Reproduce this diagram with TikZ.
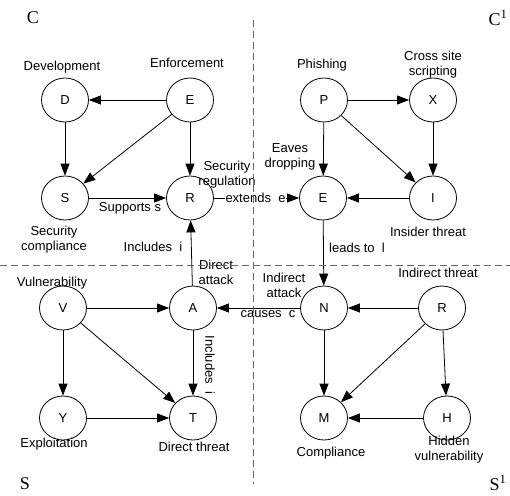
\documentclass[tikz,border=0pt]{standalone}
\usepackage{fontspec}
\setmainfont{Liberation Sans}
\newfontfamily\serifcorner{Liberation Serif}
\usetikzlibrary{arrows.meta,shapes.geometric}

\tikzset{
  state/.style={ellipse,draw,line width=0.8pt,minimum width=47pt,minimum height=44pt,inner sep=0pt,
    font=\fontsize{13}{15}\selectfont},
  lbl/.style={inner sep=0pt,align=center,font=\fontsize{13}{15}\selectfont},
  corner/.style={inner sep=0pt,font=\serifcorner\fontsize{18}{20}\selectfont},
  arr/.style={line width=0.8pt,-{Triangle[length=12pt,width=9pt]}},
  divider/.style={draw=black!60,line width=0.8pt,dash pattern=on 7pt off 4pt}
}

\begin{document}
\begin{tikzpicture}[x=1pt,y=-1pt]
\useasboundingbox (0,0) rectangle (510,495);

% quadrant C
\node[state] (D) at (65,100) {D};
\node[state] (E) at (190,100) {E};
\node[state] (S) at (65,198) {S};
\node[state] (R) at (190,198) {R};
% quadrant C'
\node[state] (P) at (324,100) {P};
\node[state] (X) at (433,100) {X};
\node[state] (E2) at (323,198) {E};
\node[state] (I) at (433,198) {I};
% quadrant S
\node[state] (V) at (63,308) {V};
\node[state] (A) at (193,308) {A};
\node[state] (Y) at (63,418) {Y};
\node[state] (T) at (193,418) {T};
% quadrant S'
\node[state] (N) at (324,308) {N};
\node[state] (R2) at (442,308) {R};
\node[state] (M) at (324,418) {M};
\node[state] (H) at (447,418) {H};

% node captions
\node[lbl] (tD) at (62,67) {Development};
\node[lbl] (tE) at (187,63) {Enforcement};
\node[lbl] (tS) at (54,240) {Security\\compliance};
\node[lbl] (tR) at (227,175) {Security\\regulation};
\node[lbl] (tP) at (322,65) {Phishing};
\node[lbl] (tX) at (433,65) {Cross site\\scripting};
\node[lbl] (tE2) at (290,157) {Eaves\\dropping};
\node[lbl] (tI) at (428,232) {Insider threat};
\node[lbl] (tV) at (52,283) {Vulnerability};
\node[lbl] (tA) at (216,272) {Direct\\attack};
\node[lbl] (tY) at (54,444) {Exploitation};
\node[lbl] (tT) at (194,447) {Direct threat};
\node[lbl] (tN) at (284,285) {Indirect\\attack};
\node[lbl] (tR2) at (438,273) {Indirect threat};
\node[lbl] (tM) at (331,453) {Compliance};
\node[lbl] (tH) at (449,450) {Hidden\\vulnerability};

% corner letters
\node[corner] (cC) at (33,18) {C};
\node[corner] (cC1) at (498,18) {C\textsuperscript{1}};
\node[corner] (cS) at (25,484) {S};
\node[corner] (cS1) at (498,483) {S\textsuperscript{1}};

% edges in C
\draw[arr] (E) -- (D);
\draw[arr] (D) -- (S);
\draw[arr] (E) -- (S);
\draw[arr] (E) -- (R);
\draw[arr] (S) -- (R);
\node[lbl] (lSR) at (130,208) {Supports s};

% edges in C'
\draw[arr] (P) -- (X);
\draw[arr] (P) -- (E2);
\draw[arr] (P) -- (I);
\draw[arr] (X) -- (I);
\draw[arr] (I) -- (E2);

% edges across quadrants
\draw[arr] (R) -- node[lbl,fill=white,inner sep=1pt,xshift=-1pt] (lRE) {extends\ \ e} (E2);
\draw[arr] (E2) -- (N);
\node[lbl] (lEN) at (357,248) {leads to\ \ l};
\draw[arr] (N) -- (A);
\node[lbl] (lNA) at (268,314) {causes\ \ c};
\draw[arr] (A) -- (R);
\node[lbl] (lAR) at (153,247) {Includes\ \ i};

% edges in S
\draw[arr] (V) -- (A);
\draw[arr] (V) -- (Y);
\draw[arr] (V) -- (T);
\draw[arr] (A) -- (T);
\node[lbl,rotate=-90] (lAT) at (210,365) {Includes\ \ i};
\draw[arr] (Y) -- (T);

% edges in S'
\draw[arr] (R2) -- (N);
\draw[arr] (N) -- (M);
\draw[arr] (R2) -- (M);
\draw[arr] (R2) -- (H);
\draw[arr] (H) -- (M);

% quadrant dividers
\coordinate (vt) at (253,20);
\coordinate (vb) at (253,484);
\coordinate (hl) at (0,265);
\coordinate (hr) at (510,265);
\draw[divider] (vt) -- (vb);
\draw[divider] (hl) -- (hr);
\end{tikzpicture}
\end{document}
